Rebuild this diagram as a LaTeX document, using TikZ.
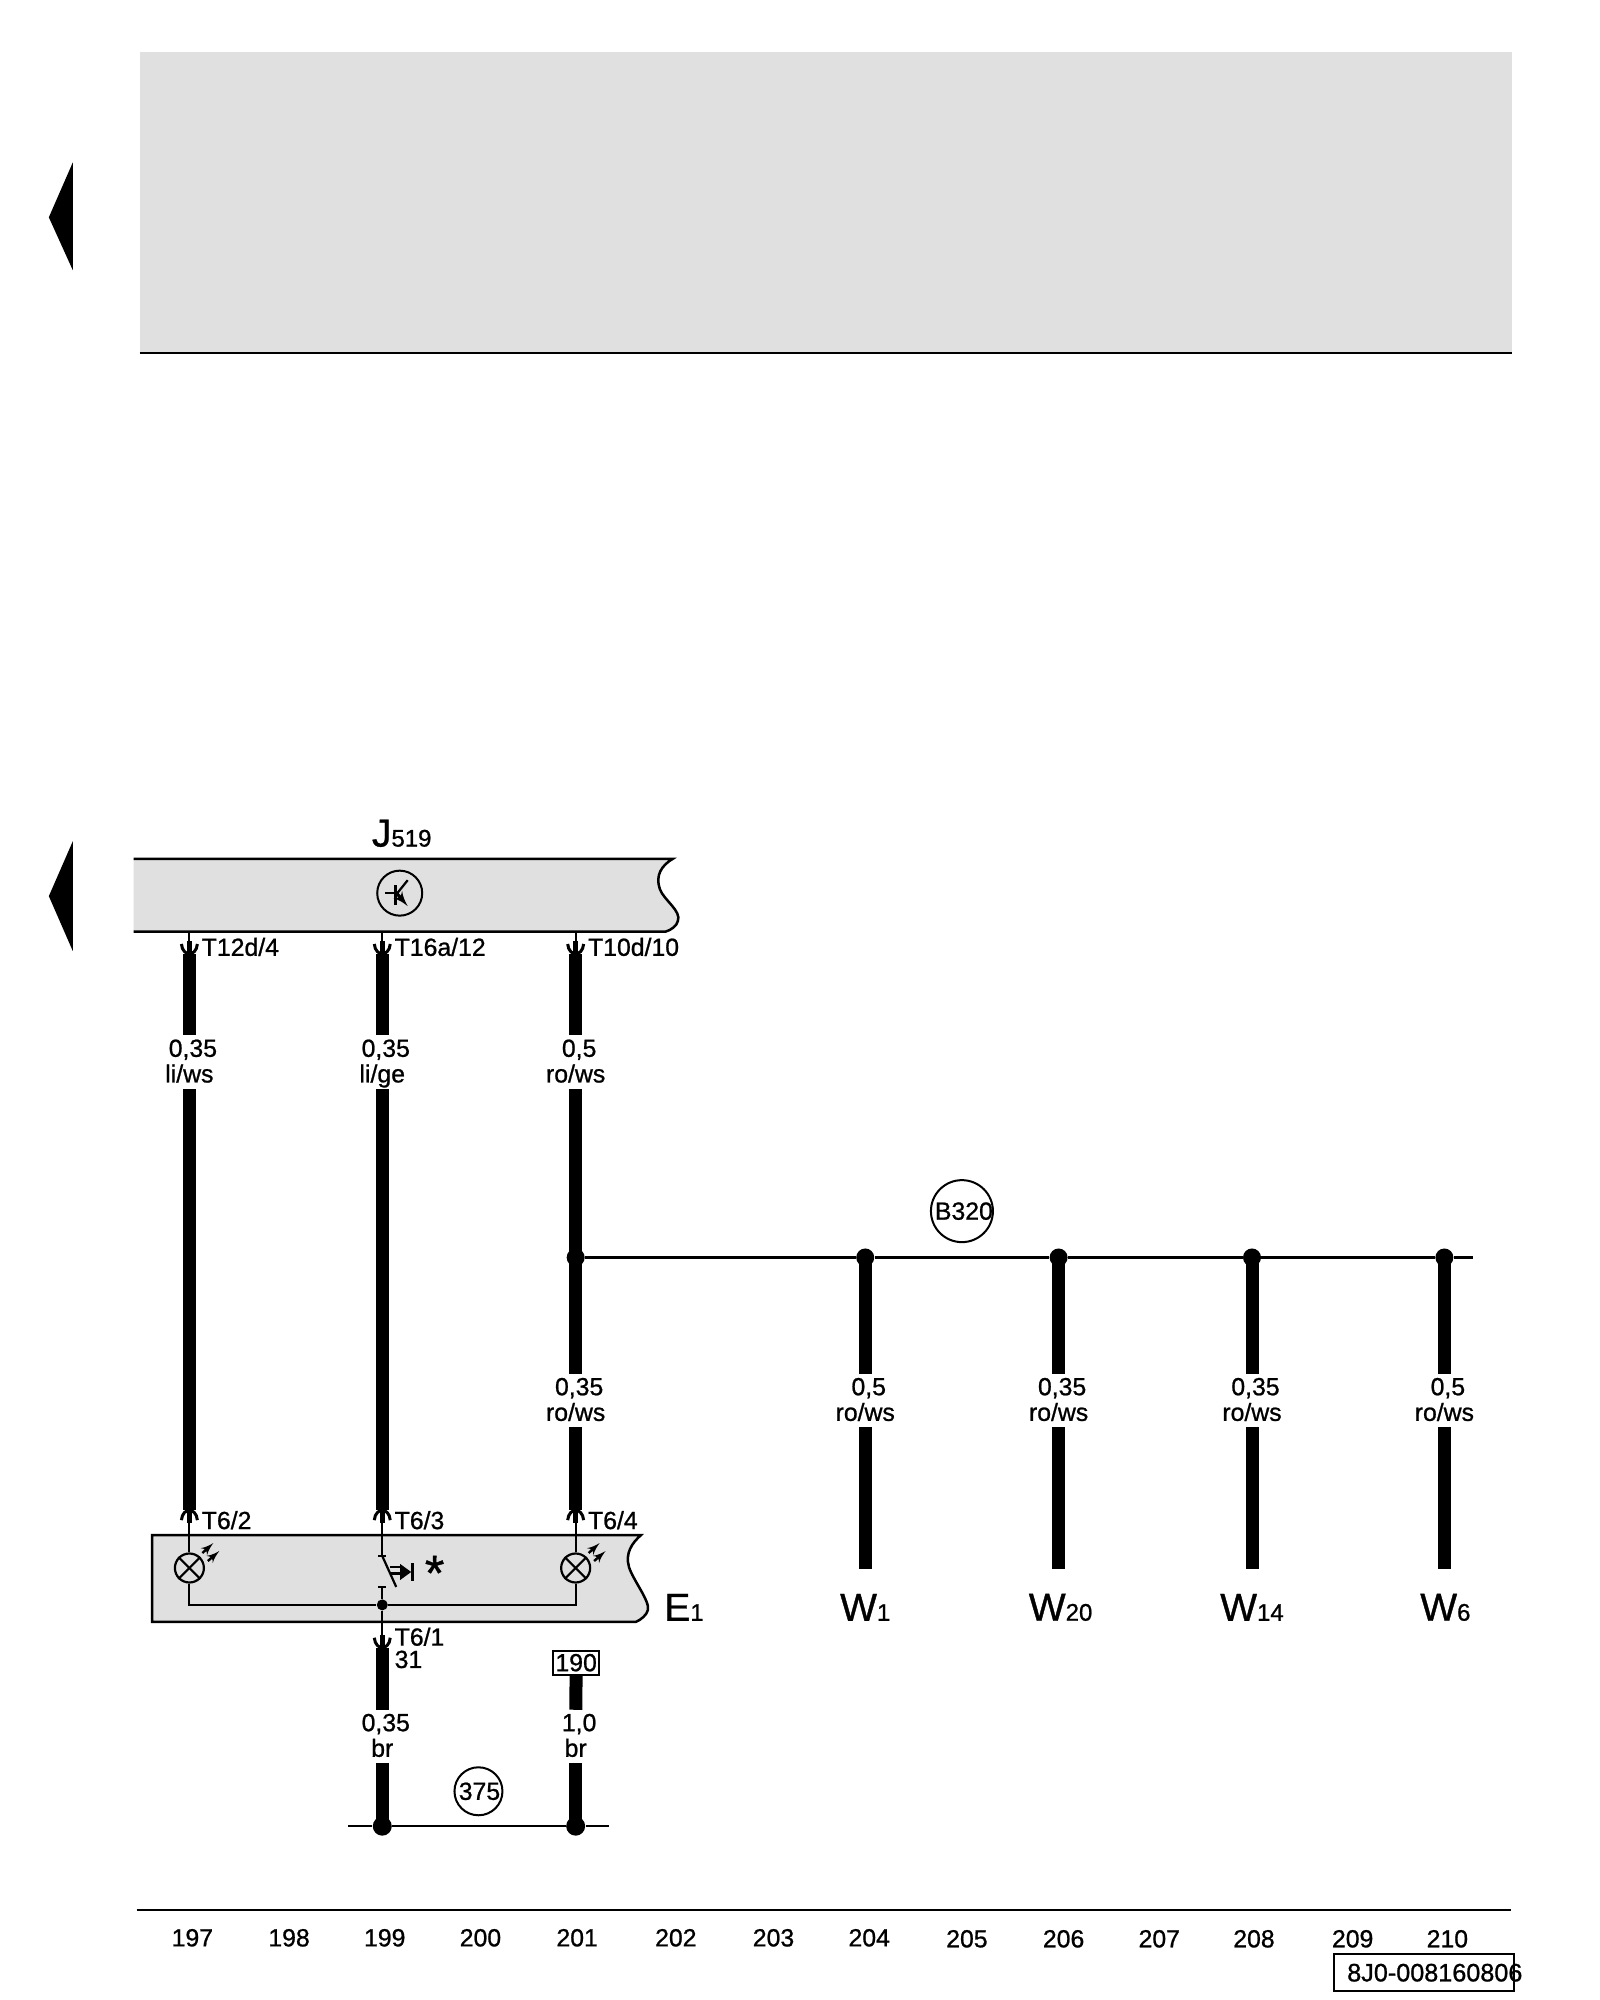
\documentclass[tikz,border=0pt]{standalone}
\usepackage{fontspec}
\setmainfont[FakeBold=0.9]{Liberation Sans}
\usetikzlibrary{arrows, positioning, shapes}

\definecolor{boxgrey}{HTML}{E0E0E0}

% size over colour code, with a fixed gap height in the wire
\newcommand{\gaugetext}[2]{\rule{0pt}{10.5pt}\hspace*{3.5pt}#1\\#2\rule[-3pt]{0pt}{3pt}}
\newcommand{\subtext}[1]{{\fontsize{12}{13}\selectfont #1}}

\tikzset{
	wire/.style={line width=6.5pt},
	thinwire/.style={line width=1.1pt},
	rule/.style={line width=1.25pt},
	txt/.style={inner sep=0pt, font=\fontsize{12.4}{12.8}\selectfont},
	gauge/.style={txt, align=center},
	pinlabel/.style={txt, anchor=west},
	gridnum/.style={txt},
	bigname/.style={inner sep=0pt, font=\fontsize{19.5}{20}\selectfont},
	tag/.style={draw, circle, inner sep=0pt, line width=1pt},
	junction/.style={circle, fill=black, inner sep=0pt, minimum size=9pt},
	lamp/.style={draw, circle, thinwire, inner sep=0pt, minimum size=14.5pt},
	pindown/.pic={
		\draw [thinwire] (0,-22) -- (0,0);
		\draw [line width=2.6pt] (0,-13) -- (0,0);
		\draw [line width=1.5pt] (-8,-10) .. controls (-7.5,-3) and (-3,0) .. (0,0) .. controls (3,0) and (7.5,-3) .. (8,-10);
	},
	lamprays/.pic={
		\draw [line width=1.2pt, -latex'] (13,-15) -- (24,-25);
		\draw [line width=1.2pt, -latex'] (18.5,-7) -- (30,-17);
	},
	transistor/.pic={
		\draw [thinwire] (-15,0) -- (-1,0);
		\draw [line width=1.3pt] (-4,-8) -- (-4,12);
		\draw [thinwire] (-4,2) -- (8,-13);
		\draw [line width=1.6pt, -latex'] (-4,-1) -- (8,13);
	},
	pushswitch/.pic={
		\draw [thinwire] (-4,0) -- (4,0);
		\draw [thinwire] (0,0) -- (14,31);
		\draw [thinwire] (-4,31) -- (4,31);
		\draw [thinwire] (8,11) -- (20,11);
		\draw [thinwire] (9,17.5) -- (20,17.5);
		\fill (18,8) -- (29,16) -- (18,24) -- cycle;
		\draw [line width=1.4pt] (30,7) -- (30,25);
	}
}

\begin{document}
\begin{tikzpicture}[x=0.4984pt, y=-0.4984pt]

\useasboundingbox (0,0) rectangle (1605.1,2006.4);

% top panel
\fill [boxgrey] (140,52) rectangle (1517,354);
\draw [rule] (140,354) -- (1517,354);

\fill (73,163) -- (49,218) -- (73,271) -- cycle;
\fill (73,844) -- (49,899) -- (73,954) -- cycle;

% J519
\fill [boxgrey] (134,861.5) -- (675,861.5) .. controls (664,868) and (657,878) .. (662,892) .. controls (666,903) and (684,914) .. (680,924) .. controls (679,929) and (673,933) .. (668,934.5) -- (134,934.5) -- cycle;
\draw [rule] (134,861.5) -- (675,861.5) .. controls (664,868) and (657,878) .. (662,892) .. controls (666,903) and (684,914) .. (680,924) .. controls (679,929) and (673,933) .. (668,934.5) -- (134,934.5);

\node [bigname] (j519) at (403,836) {J\subtext{519}};
\node [tag, minimum size=22.5pt] (trans) at (401,896) {};
\pic at (trans) {transistor};

% E1
\fill [boxgrey] (152.5,1540) -- (643,1540) .. controls (634,1548) and (627,1558) .. (631,1572) .. controls (635,1585) and (652,1606) .. (650,1615) .. controls (649,1620) and (643,1625) .. (638,1627) -- (152.5,1627) -- cycle;
\draw [rule] (152.5,1540) -- (643,1540) .. controls (634,1548) and (627,1558) .. (631,1572) .. controls (635,1585) and (652,1606) .. (650,1615) .. controls (649,1620) and (643,1625) .. (638,1627) -- (152.5,1627) -- cycle;

\node [bigname, anchor=west] (e1) at (666,1612.5) {E\subtext{1}};

% pins
\coordinate (t12d) at (190,957);
\coordinate (t16a) at (383.5,957);
\coordinate (t10d) at (577.5,957);
\coordinate (t62) at (190,1515);
\coordinate (t63) at (383.5,1515);
\coordinate (t64) at (577.5,1515);
\coordinate (t61) at (383.5,1653);

% gauge labels
\node [gauge] (g12d) at (190,1065.5) {\gaugetext{0,35}{li/ws}};
\node [gauge] (g16a) at (383.5,1065.5) {\gaugetext{0,35}{li/ge}};
\node [gauge] (g10d) at (577.5,1065.5) {\gaugetext{0,5}{ro/ws}};
\node [gauge] (g64) at (577.5,1405) {\gaugetext{0,35}{ro/ws}};
\node [gauge] (g1) at (868,1405) {\gaugetext{0,5}{ro/ws}};
\node [gauge] (g20) at (1062,1405) {\gaugetext{0,35}{ro/ws}};
\node [gauge] (g14) at (1256,1405) {\gaugetext{0,35}{ro/ws}};
\node [gauge] (g6) at (1449,1405) {\gaugetext{0,5}{ro/ws}};
\node [gauge] (g61) at (383.5,1742) {\gaugetext{0,35}{br}};
\node [gauge] (g190) at (577.5,1742) {\gaugetext{1,0}{br}};

% junctions
\node [junction] (b0) at (577.5,1261.5) {};
\node [junction] (b1) at (868,1261.5) {};
\node [junction] (b20) at (1062,1261.5) {};
\node [junction] (b14) at (1256,1261.5) {};
\node [junction] (b6) at (1449,1261.5) {};
\coordinate (bend) at (1478,1261.5);

\node [junction, minimum size=9.5pt] (m61) at (383.5,1832) {};
\node [junction, minimum size=9.5pt] (m190) at (577.5,1832) {};
\coordinate (mleft) at (349,1832);
\coordinate (mright) at (611,1832);

% wire ends
\node [bigname] (w1) at (868,1612.5) {W\subtext{1}};
\node [bigname] (w20) at (1064,1612.5) {W\subtext{20}};
\node [bigname] (w14) at (1256,1612.5) {W\subtext{14}};
\node [bigname] (w6) at (1450,1612.5) {W\subtext{6}};
\coordinate (w1top) at (868,1574);
\coordinate (w20top) at (1062,1574);
\coordinate (w14top) at (1256,1574);
\coordinate (w6top) at (1449,1574);

\node [draw, txt, thinwire, minimum width=23pt, minimum height=12pt] (f190) at (578,1668) {190};

% thick wires
\draw [wire] (t12d) -- (g12d);
\draw [wire] (g12d) -- (t62);
\draw [wire] (t16a) -- (g16a);
\draw [wire] (g16a) -- (t63);
\draw [wire] (t10d) -- (g10d);
\draw [wire] (g10d) -- (b0.center);
\draw [wire] (b0.center) -- (g64);
\draw [wire] (g64) -- (t64);
\draw [wire] (b1.center) -- (g1);
\draw [wire] (g1) -- (w1top);
\draw [wire] (b20.center) -- (g20);
\draw [wire] (g20) -- (w20top);
\draw [wire] (b14.center) -- (g14);
\draw [wire] (g14) -- (w14top);
\draw [wire] (b6.center) -- (g6);
\draw [wire] (g6) -- (w6top);
\draw [wire] (t61) -- (g61);
\draw [wire] (g61) -- (m61.center);
\draw [wire] (f190) -- (g190);
\draw [wire] (g190) -- (m190.center);

% pin symbols and their labels
\pic at (t12d) {pindown};
\pic at (t16a) {pindown};
\pic at (t10d) {pindown};
\pic [yscale=-1] at (t62) {pindown};
\pic [yscale=-1] at (t63) {pindown};
\pic [yscale=-1] at (t64) {pindown};
\pic at (t61) {pindown};

\node [pinlabel, right=6pt of t12d, yshift=3.5pt] (t12dlab) {T12d/4};
\node [pinlabel, right=6pt of t16a, yshift=3.5pt] (t16alab) {T16a/12};
\node [pinlabel, right=6pt of t10d, yshift=3.5pt] (t10dlab) {T10d/10};
\node [pinlabel, right=6pt of t62, yshift=-5pt] (t62lab) {T6/2};
\node [pinlabel, right=6pt of t63, yshift=-5pt] (t63lab) {T6/3};
\node [pinlabel, right=6pt of t64, yshift=-5pt] (t64lab) {T6/4};
\node [pinlabel, right=6pt of t61, yshift=5.5pt] (t61lab) {T6/1};
\node [pinlabel, below=2pt of t61lab.south west, anchor=north west] (t31lab) {31};

% thin bus lines
\draw [thinwire] (b0) -- (b1);
\draw [thinwire] (b1) -- (b20);
\draw [thinwire] (b20) -- (b14);
\draw [thinwire] (b14) -- (b6);
\draw [thinwire] (b6) -- (bend);
\draw [thinwire] (mleft) -- (m61);
\draw [thinwire] (m61) -- (m190);
\draw [thinwire] (m190) -- (mright);

\node [tag, minimum size=31pt] (b320) at (965,1215) {};
\node [txt] (b320lab) at (967,1215) {B320};
\node [tag, minimum size=24pt] (m375) at (480,1797) {};
\node [txt] (m375lab) at (481,1797) {375};

% inside E1
\node [lamp] (lamp1) at (190,1573) {};
\node [lamp] (lamp2) at (577.5,1573) {};
\draw [thinwire] (lamp1.45) -- (lamp1.225);
\draw [thinwire] (lamp1.135) -- (lamp1.-45);
\draw [thinwire] (lamp2.45) -- (lamp2.225);
\draw [thinwire] (lamp2.135) -- (lamp2.-45);
\pic at (lamp1) {lamprays};
\pic at (lamp2) {lamprays};

\node [junction, minimum size=5.5pt] (edot) at (383.5,1610) {};
\coordinate (e1left) at (190,1610);
\coordinate (e1right) at (577.5,1610);
\coordinate (swtop) at (383.5,1561);
\coordinate (swlow) at (383.5,1592);
\pic at (swtop) {pushswitch};

\draw [thinwire] (t62) -- (lamp1);
\draw [thinwire] (t64) -- (lamp2);
\draw [thinwire] (t63) -- (swtop);
\draw [thinwire] (swlow) -- (edot);
\draw [thinwire] (edot) -- (t61);
\draw [thinwire] (lamp1) -- (e1left) -- (edot);
\draw [thinwire] (edot) -- (e1right) -- (lamp2);

\node [inner sep=0pt, font=\fontsize{25}{25}\selectfont] (star) at (436,1578) {*};

% page foot
\coordinate (footl) at (137,1916);
\coordinate (footr) at (1516,1916);
\draw [rule] (footl) -- (footr);

\node [gridnum] (n197) at (193,1944) {197};
\node [gridnum] (n198) at (290,1944) {198};
\node [gridnum] (n199) at (386,1944) {199};
\node [gridnum] (n200) at (482,1944) {200};
\node [gridnum] (n201) at (579,1944) {201};
\node [gridnum] (n202) at (678,1944) {202};
\node [gridnum] (n203) at (776,1944) {203};
\node [gridnum] (n204) at (872,1944) {204};
\node [gridnum] (n205) at (970,1945) {205};
\node [gridnum] (n206) at (1067,1945) {206};
\node [gridnum] (n207) at (1163,1945) {207};
\node [gridnum] (n208) at (1258,1945) {208};
\node [gridnum] (n209) at (1357,1945) {209};
\node [gridnum] (n210) at (1452,1945) {210};

\node [draw, thinwire, inner sep=0pt, minimum width=90pt, minimum height=18.5pt] (partbox) at (1428.5,1979) {};
\node [txt, font=\fontsize{12.6}{13}\selectfont, right=7pt of partbox.west] (partno) {8J0-008160806};

\end{tikzpicture}
\end{document}
